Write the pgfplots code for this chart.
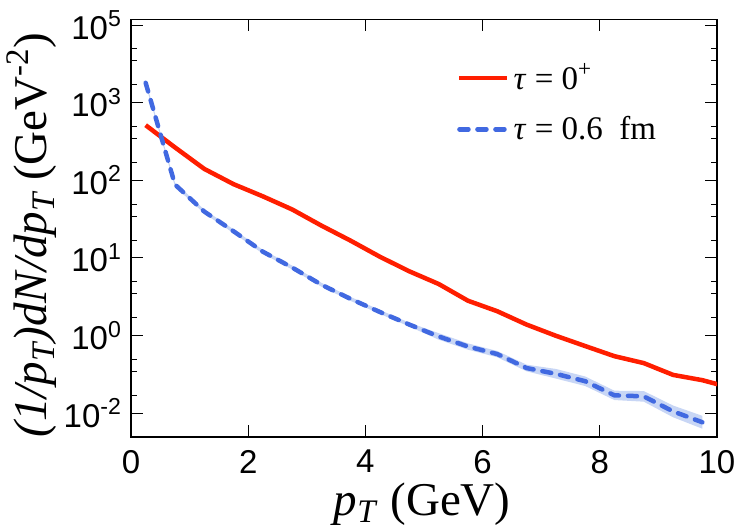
\documentclass[border=0pt]{standalone}
\usepackage{fontspec}
\setmainfont{Liberation Serif}
\newfontfamily\ticksf{Liberation Sans}
\usepackage{pgfplots}
\pgfplotsset{compat=1.18}
\definecolor{redline}{RGB}{255,30,0}
\definecolor{blueline}{RGB}{65,105,225}
\definecolor{bandcol}{RGB}{200,214,245}
\begin{document}
\begin{tikzpicture}
\path[use as bounding box] (-65.5pt,-46.5pt) rectangle (309.5pt,218.5pt);
\begin{axis}[
  at={(0,0)}, anchor=south west,
  scale only axis, width=293pt, height=208.75pt,
  xmin=0, xmax=10,
  ymode=log, ymin=0.0491, ymax=11780,
  xtick={0,2,4,6,8,10}, xticklabels={0,2,4,6,8,10},
  ytick={0.1,1,10,100,1000,10000},
  yticklabels={10\textsuperscript{-2},10\textsuperscript{0},10\textsuperscript{1},10\textsuperscript{2},10\textsuperscript{3},10\textsuperscript{5}},
  minor ytick={4910,3440,1690,491,344,169,49.1,34.4,16.9,4.91,3.44,1.69,0.491,0.344,0.169},
  tick align=inside,
  major tick length=6pt, minor tick length=3pt,
  every tick/.style={black, line width=0.5pt},
  axis line style={line width=0.9pt},
  tick label style={font=\ticksf\fontsize{16.5}{16.5}\selectfont},
  xticklabel style={yshift=-3pt},
  yticklabel style={xshift=-1pt},
  every axis x label/.style={at={(axis description cs:0.497,0)}, anchor=base, yshift=-39pt},
  every axis y label/.style={at={(axis description cs:-0.169,0.484)}, rotate=90, anchor=center},
  label style={font=\fontsize{23.5}{23.5}\selectfont},
  xlabel={\textit{p}\textsubscript{\textit{T}} (GeV)},
  ylabel={\textit{(1/p\textsubscript{T})dN/dp\textsubscript{T}} (GeV\textsuperscript{-2})},
  legend style={at={(axis description cs:0.556,0.905)}, anchor=north west, draw=none, fill=none,
    font=\fontsize{16.5}{16.5}\selectfont, row sep=8pt, inner sep=0pt},
  legend cell align=left,
  legend image code/.code={\draw[#1] (0pt,0pt) -- (24pt,0pt);},
]
\addplot[fill=bandcol, draw=none, forget plot] coordinates {
(0.25,1908) (0.75,93.3) (1.25,41.9) (1.75,23.3) (2.25,12.7) (2.75,7.95) (3.25,4.77) (3.75,3.13)
(4.25,2.12) (4.75,1.46) (5.25,1.07) (5.75,0.79) (6.25,0.63) (6.75,0.42) (7.25,0.37) (7.75,0.296)
(8.25,0.194) (8.75,0.192) (9.25,0.125) (9.75,0.092)
(9.75,0.0628) (9.25,0.0882) (8.75,0.140) (8.25,0.147) (7.75,0.223) (7.25,0.278) (6.75,0.345)
(6.25,0.523) (5.75,0.655) (5.25,0.882) (4.75,1.30) (4.25,1.89) (3.75,2.78) (3.25,4.25)
(2.75,7.08) (2.25,11.3) (1.75,20.8) (1.25,37.3) (0.75,83.0) (0.25,1698)
} -- cycle;
\addplot[redline, line width=2.25pt, line join=round] coordinates {
(0.25,512) (0.75,265) (1.25,140) (1.75,89) (2.25,62) (2.75,42) (3.25,26) (3.75,16.6)
(4.25,10.3) (4.75,6.7) (5.25,4.6) (5.75,2.8) (6.25,2.05) (6.75,1.38) (7.25,0.99) (7.75,0.73)
(8.25,0.54) (8.75,0.44) (9.25,0.31) (9.75,0.265) (10.25,0.21)
};
\addlegendentry{\textit{τ} = 0\textsuperscript{+}}
\addplot[blueline, line width=2.25pt, line cap=round, line join=round, dash pattern=on 4.5pt off 4.5pt] coordinates {
(0.25,1800) (0.75,88) (1.25,39.5) (1.75,22) (2.25,12) (2.75,7.5) (3.25,4.5) (3.75,2.95)
(4.25,2.0) (4.75,1.38) (5.25,0.97) (5.75,0.72) (6.25,0.575) (6.75,0.38) (7.25,0.32) (7.75,0.257)
(8.25,0.169) (8.75,0.164) (9.25,0.105) (9.75,0.076)
};
\addlegendentry{\textit{τ} = 0.6\ \ fm}
\end{axis}
\end{tikzpicture}
\end{document}
